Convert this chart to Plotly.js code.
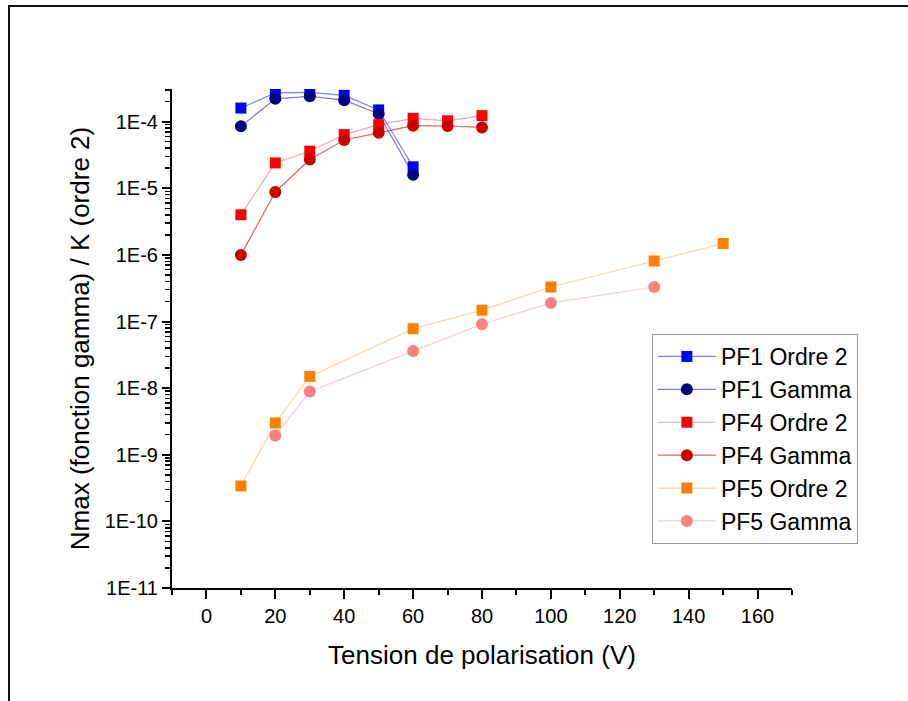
<!DOCTYPE html>
<html>
<head>
<meta charset="utf-8">
<script src="https://cdn.plot.ly/plotly-3.0.1.min.js"></script>
<style>
  html, body { margin: 0; padding: 0; background: #fff; }
  #wrap { position: relative; width: 908px; height: 701px; }
  #frame { position: absolute; left: 8px; top: 5px; right: 0; bottom: 0;
           border-top: 2px solid #111; border-left: 2px solid #111; pointer-events: none; z-index: 5; }
  #chart { position: absolute; left: 0; top: 0; width: 908px; height: 701px; }
</style>
</head>
<body>
<div id="wrap">
  <div id="chart"></div>
  <div id="frame"></div>
</div>
<script>
// ---- Data ----
const seriesNames = ["PF1 Ordre 2", "PF1 Gamma", "PF4 Ordre 2", "PF4 Gamma", "PF5 Ordre 2", "PF5 Gamma"];

const xPF1 = [10, 20, 30, 40, 50, 60];
const pf1Ordre2 = [1.6e-4, 2.7e-4, 2.75e-4, 2.48e-4, 1.5e-4, 2.1e-5];
const pf1Gamma  = [8.5e-5, 2.2e-4, 2.4e-4, 2.1e-4, 1.3e-4, 1.6e-5];

const xPF4 = [10, 20, 30, 40, 50, 60, 70, 80];
const pf4Ordre2 = [4.0e-6, 2.4e-5, 3.6e-5, 6.4e-5, 9.0e-5, 1.12e-4, 1.03e-4, 1.23e-4];
const pf4Gamma  = [1.0e-6, 8.8e-6, 2.7e-5, 5.3e-5, 6.8e-5, 8.7e-5, 8.6e-5, 8.2e-5];

const xPF5Ordre2 = [10, 20, 30, 60, 80, 100, 130, 150];
const pf5Ordre2  = [3.4e-10, 3.0e-9, 1.5e-8, 7.8e-8, 1.48e-7, 3.3e-7, 8.1e-7, 1.48e-6];
const xPF5Gamma  = [20, 30, 60, 80, 100, 130];
const pf5Gamma   = [1.95e-9, 8.9e-9, 3.6e-8, 9.1e-8, 1.9e-7, 3.3e-7];

const xTickVals = [0, 20, 40, 60, 80, 100, 120, 140, 160];
const yDecadeExps = [-11, -10, -9, -8, -7, -6, -5, -4];
const yTickLabels = ["1E-11", "1E-10", "1E-9", "1E-8", "1E-7", "1E-6", "1E-5", "1E-4"];

// ---- Styles ----
const markerColors = ["#0000ff", "#000080", "#ff0000", "#cc0000", "#ff8000", "#ff8080"];
const lineColors = ["rgba(0,0,255,0.5)", "rgba(0,0,128,0.5)", "rgba(255,0,0,0.35)",
                    "rgba(204,0,0,0.6)", "rgba(255,128,0,0.35)", "rgba(255,128,128,0.4)"];
const symbols = ["square", "circle", "square", "circle", "square", "circle"];
const xs = [xPF1, xPF1, xPF4, xPF4, xPF5Ordre2, xPF5Gamma];
const ys = [pf1Ordre2, pf1Gamma, pf4Ordre2, pf4Gamma, pf5Ordre2, pf5Gamma];

const traces = seriesNames.map((name, i) => ({
  type: "scatter",
  mode: "lines+markers",
  name: name,
  x: xs[i],
  y: ys[i],
  line: { color: lineColors[i], width: 1.2 },
  marker: { symbol: symbols[i], color: markerColors[i], size: symbols[i] === "square" ? 11 : 12,
            line: { width: 0 } }
}));

const yTickVals = yDecadeExps.map(e => Math.pow(10, e));
const yMinorVals = [];
yDecadeExps.forEach(e => { for (let m = 2; m <= 9; m++) yMinorVals.push(m * Math.pow(10, e)); });

const FONT = "'Liberation Sans', Arial, sans-serif";

const layout = {
  width: 908, height: 701,
  paper_bgcolor: "rgba(0,0,0,0)", plot_bgcolor: "rgba(0,0,0,0)",
  margin: { l: 172, r: 116, t: 89, b: 113 },
  font: { family: FONT, color: "#000" },
  showlegend: true,
  legend: {
    x: 0.774, y: 0.509, xanchor: "left", yanchor: "top",
    bgcolor: "#fff", bordercolor: "#999", borderwidth: 1,
    font: { family: FONT, size: 23, color: "#000" },
    itemwidth: 58
  },
  xaxis: {
    range: [-10, 170], showgrid: false, zeroline: false,
    showline: true, linecolor: "#000", linewidth: 2,
    ticks: "outside", ticklen: 9, tickwidth: 2, tickcolor: "#000",
    tickmode: "array", tickvals: xTickVals,
    tickfont: { family: FONT, size: 20 },
    minor: { dtick: 10, tick0: -10, ticks: "outside", ticklen: 5, tickwidth: 2, tickcolor: "#000" },
    title: { text: "Tension de polarisation (V)", font: { family: FONT, size: 26 }, standoff: 20 }
  },
  yaxis: {
    type: "log", range: [-11, -3.51], showgrid: false, zeroline: false,
    showline: true, linecolor: "#000", linewidth: 2,
    ticks: "outside", ticklen: 8, tickwidth: 2, tickcolor: "#000",
    tickmode: "array", tickvals: yTickVals, ticktext: yTickLabels,
    tickfont: { family: FONT, size: 20 },
    minor: { tickmode: "array", tickvals: yMinorVals, ticks: "outside", ticklen: 5, tickwidth: 1.5, tickcolor: "#000" },
    title: { text: "Nmax (fonction gamma) / K (ordre 2)", font: { family: FONT, size: 26 }, standoff: 8 }
  }
};

Plotly.newPlot("chart", traces, layout, { displayModeBar: false, staticPlot: true });
</script>
</body>
</html>
